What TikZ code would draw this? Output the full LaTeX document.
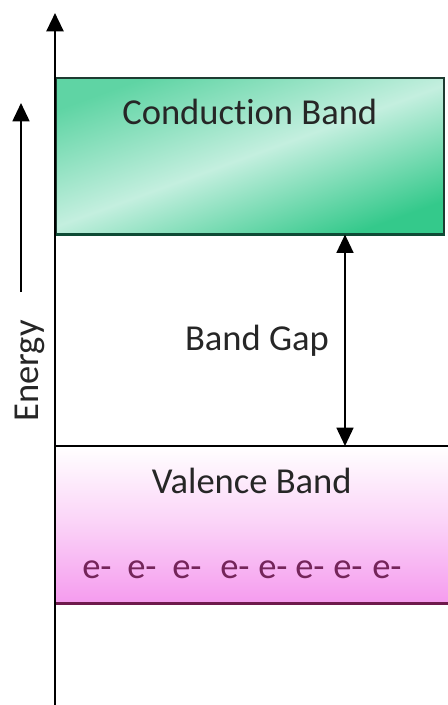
\documentclass[tikz,border=0pt]{standalone}
\usepackage{fontspec}
\setmainfont[Ligatures=NoCommon]{Carlito}
\usepackage{xcolor}
\usepackage{tikz}
\usetikzlibrary{arrows.meta, positioning}

\definecolor{cbdark}{HTML}{34C98B}
\definecolor{cblight}{HTML}{C4EFDF}
\definecolor{cbedge}{HTML}{1E3B31}
\definecolor{cbfoot}{HTML}{0E4B35}
\definecolor{vbpink}{HTML}{F59BEE}
\definecolor{vbfoot}{HTML}{6E1A4C}
\definecolor{elec}{HTML}{74255A}
\definecolor{txt}{HTML}{262626}

\begin{document}
\begin{tikzpicture}[
            condband/.style ={rectangle, draw=cbedge, line width=1.1pt, inner sep=0pt,
                              top color=cbdark!70!cblight, bottom color=cbdark, middle color=cblight,
                              shading angle=20},
            valband/.style  ={rectangle, inner sep=0pt, top color=white, bottom color=vbpink,
                              middle color=vbpink!45},
            bandlabel/.style={inner sep=0pt, text=txt, font=\fontsize{26}{30}\selectfont},
            electron/.style ={inner sep=0pt, text=elec, font=\fontsize{26}{30}\selectfont},
            axisarr/.style  ={-{Triangle[width=12pt, length=13pt]}, line width=1.8pt, black},
            energyarr/.style={-{Triangle[width=12pt, length=13pt]}, line width=1.4pt, black},
            gaparr/.style   ={{Triangle[width=12pt, length=13pt]}-{Triangle[width=12pt, length=13pt]},
                              line width=1.3pt, black}
        ]
            \useasboundingbox (0,0) rectangle (11.2,-17.625);

            % --- Bandas ---
            \node[condband, minimum width=9.7cm, minimum height=3.9cm, anchor=north west]
                 (cband) at (1.375,-1.925) {};
            \node[valband, minimum width=9.825cm, minimum height=3.925cm, anchor=north west]
                 (vband) at (1.375,-11.15) {};

            % Bordes
            \draw[cbfoot, line width=2pt] (cband.south west) -- (cband.south east);
            \draw[black, line width=1.1pt] (vband.north west) -- (vband.north east);
            \draw[vbfoot, line width=2.2pt] (vband.south west) -- (vband.south east);

            % --- Textos ---
            \node[bandlabel, below=0.55cm of cband.north] (ctext) {Conduction Band};
            \node[bandlabel, below=0.55cm of vband.north] (vtext) {Valence Band};
            \foreach \ex [count=\i] in {2.05, 3.175, 4.3, 5.5, 6.45, 7.375, 8.325, 9.3}
                \node[electron, anchor=base west] (e\i) at (\ex,-14.45) {e-};

            % --- Eje de energía ---
            \coordinate (origin) at (1.375,-17.625);
            \coordinate (ytop)   at (1.375,-0.325);
            \draw[axisarr] (origin) -- (ytop);

            \coordinate (etail) at (0.525,-7.3);
            \coordinate (ehead) at (0.525,-2.575);
            \draw[energyarr] (etail) -- (ehead);
            \node[bandlabel, rotate=90] (energy) at (0.75,-9.275) {Energy};

            % --- Banda prohibida ---
            \coordinate (gtop) at (cband.south -| 8.625,0);
            \coordinate (gbot) at (vband.north -| 8.625,0);
            \draw[gaparr] (gtop) -- node[bandlabel, left=0.38cm] (gap) {Band Gap} (gbot);

        \end{tikzpicture}
\end{document}
